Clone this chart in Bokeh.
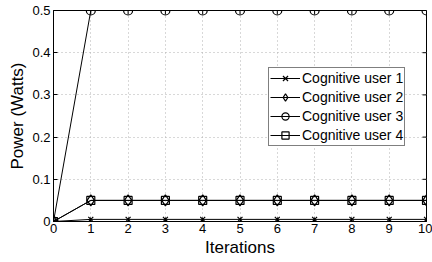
import math
from bokeh.plotting import figure
from bokeh.models import Legend, LegendItem, FixedTicker, Range1d
from bokeh.embed import file_html
from bokeh.resources import INLINE

iterations = [0, 1, 2, 3, 4, 5, 6, 7, 8, 9, 10]
user1 = [0, 0.005, 0.005, 0.005, 0.005, 0.005, 0.005, 0.005, 0.005, 0.005, 0.005]
user2 = [0, 0.05, 0.05, 0.05, 0.05, 0.05, 0.05, 0.05, 0.05, 0.05, 0.05]
user3 = [0, 0.5, 0.5, 0.5, 0.5, 0.5, 0.5, 0.5, 0.5, 0.5, 0.5]
user4 = [0, 0.05, 0.05, 0.05, 0.05, 0.05, 0.05, 0.05, 0.05, 0.05, 0.05]
x_ticks = [0, 1, 2, 3, 4, 5, 6, 7, 8, 9, 10]
y_ticks = [0, 0.1, 0.2, 0.3, 0.4, 0.5]
y_labels = {0: "0", 0.1: "0.1", 0.2: "0.2", 0.3: "0.3", 0.4: "0.4", 0.5: "0.5"}
labels = ["Cognitive user 1", "Cognitive user 2", "Cognitive user 3", "Cognitive user 4"]

FONT = "Liberation Sans"
X0, X1, Y0, Y1 = 0, 10, 0, 0.5

p = figure(width=432, height=262, output_backend="svg", toolbar_location=None,
           x_range=Range1d(X0, X1), y_range=Range1d(Y0, Y1),
           min_border_left=53, min_border_right=6, min_border_top=10, min_border_bottom=41)
p.outline_line_color = "black"
p.outline_line_width = 1

for ax in [p.xaxis[0], p.yaxis[0]]:
    ax.major_tick_in = 4
    ax.major_tick_out = 0
    ax.minor_tick_in = 0
    ax.minor_tick_out = 0
    ax.axis_line_color = "black"
    ax.major_label_text_font = FONT
    ax.major_label_text_font_size = "13px"
    ax.major_label_text_color = "black"
    ax.axis_label_text_font = FONT
    ax.axis_label_text_font_size = "17px"
    ax.axis_label_text_font_style = "normal"
    ax.axis_label_text_color = "black"

p.xaxis.ticker = FixedTicker(ticks=x_ticks)
p.yaxis.ticker = FixedTicker(ticks=y_ticks)
p.yaxis.major_label_overrides = y_labels
p.xaxis.axis_label = "Iterations"
p.yaxis.axis_label = "Power (Watts)"
p.xaxis.major_label_standoff = 2
p.yaxis.major_label_standoff = 3
p.xaxis.axis_label_standoff = 2
p.yaxis.axis_label_standoff = 2

p.xgrid.ticker = FixedTicker(ticks=x_ticks)
p.ygrid.ticker = FixedTicker(ticks=y_ticks)
for g in [p.xgrid[0], p.ygrid[0]]:
    g.grid_line_color = "#b0b0b0"
    g.grid_line_dash = "1 3"
    g.grid_line_width = 1

# inward ticks on the right and top edges (box)
p.ray(x=[X1] * len(y_ticks), y=y_ticks, length=4, length_units="screen",
      angle=math.pi, line_color="black", line_width=1)
p.ray(x=x_ticks, y=[Y1] * len(x_ticks), length=4, length_units="screen",
      angle=-math.pi / 2, line_color="black", line_width=1)

items = []
series = [(user1, "x", 7), (user2, "diamond", 11), (user3, "circle", 9), (user4, "square", 8)]
for (ys, mk, sz), lab in zip(series, labels):
    l = p.line(iterations, ys, line_color="black", line_width=1)
    s = p.scatter(iterations, ys, marker=mk, size=sz, line_color="black", fill_color=None, line_width=1.2)
    items.append(LegendItem(label=lab, renderers=[l, s]))

legend = Legend(items=items, location=(215, 75))
legend.label_text_font = FONT
legend.label_text_font_size = "14px"
legend.label_text_color = "black"
legend.glyph_width = 30
legend.glyph_height = 18
legend.label_height = 18
legend.spacing = 1
legend.padding = 1
legend.margin = 0
legend.label_standoff = 2
legend.border_line_color = "black"
legend.border_line_width = 1
legend.background_fill_color = "white"
legend.background_fill_alpha = 1
p.add_layout(legend, "center")

open("out.html", "w").write(file_html(p, INLINE))
